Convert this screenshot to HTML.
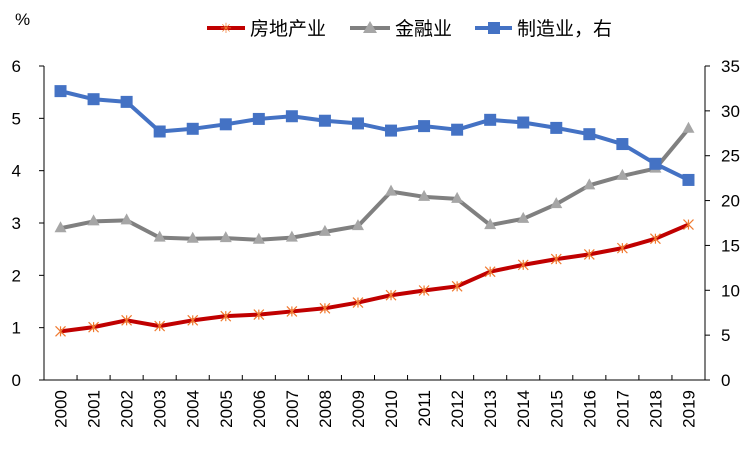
<!DOCTYPE html>
<html><head><meta charset="utf-8"><style>
body{margin:0;background:#fff}
text{font-family:"Liberation Sans","Noto Sans CJK SC",sans-serif;fill:#000}
</style></head><body>
<svg id="c" width="751" height="450">
<text x="15" y="25" font-size="17">%</text>
<g>
<g><line x1="207" y1="28" x2="245" y2="28" stroke="#c00000" stroke-width="4"/><text x="226" y="33" font-size="14" fill="#f07a30" text-anchor="middle" style="fill:#f07a30">✳</text><text x="250" y="35" font-size="19">房地产业</text></g>
<g><line x1="350" y1="28" x2="390" y2="28" stroke="#808080" stroke-width="4"/><polygon points="370,21 377,33 363,33" fill="#a6a6a6"/><text x="395" y="35" font-size="19">金融业</text></g>
<g><line x1="475" y1="28" x2="512" y2="28" stroke="#4472c4" stroke-width="4"/><rect x="488" y="22" width="12" height="12" fill="#4472c4"/><text x="517" y="35" font-size="19">制造业，右</text></g>
</g>
<g id="axes"></g><g id="series"></g>
</svg>
<script>
const years=["2000","2001","2002","2003","2004","2005","2006","2007","2008","2009","2010","2011","2012","2013","2014","2015","2016","2017","2018","2019"];
const realEstate=[0.93,1.01,1.14,1.03,1.14,1.22,1.25,1.31,1.37,1.48,1.62,1.71,1.79,2.07,2.2,2.31,2.4,2.52,2.7,2.97];
const finance=[2.9,3.03,3.05,2.72,2.7,2.71,2.68,2.72,2.83,2.94,3.6,3.5,3.46,2.96,3.08,3.36,3.72,3.9,4.04,4.8];
const manufacturing=[32.2,31.3,31.0,27.7,28.0,28.5,29.1,29.4,28.9,28.6,27.8,28.3,27.9,29.0,28.7,28.1,27.4,26.3,24.1,22.3];
const leftTicks=[0,1,2,3,4,5,6];
const rightTicks=[0,5,10,15,20,25,30,35];
const NS="http://www.w3.org/2000/svg";
const L=44,R=705,T=66,B=380;
const bw=(R-L)/years.length;
const x=i=>L+bw*(i+0.5);
const yl=v=>B-(v/6)*(B-T);
const yr=v=>B-(v/35)*(B-T);
function mk(t,a,p){const e=document.createElementNS(NS,t);for(const k in a)e.setAttribute(k,a[k]);p.appendChild(e);return e;}
const ax=document.getElementById('axes'),se=document.getElementById('series');
const la=mk('line',{x1:L,y1:T,x2:L,y2:B,stroke:'#000','stroke-width':1},ax);


const ra=mk('line',{x1:R,y1:T,x2:R,y2:B,stroke:'#000','stroke-width':1},ax);


const xa=mk('line',{x1:L,y1:B,x2:R,y2:B,stroke:'#000','stroke-width':1},ax);


leftTicks.forEach(v=>{mk('line',{x1:L-5,y1:yl(v),x2:L,y2:yl(v),stroke:'#000'},ax);
const t=mk('text',{x:L-23,y:yl(v)+6,'font-size':17,'text-anchor':'end'},ax);t.textContent=v;

});
rightTicks.forEach(v=>{mk('line',{x1:R,y1:yr(v),x2:R+5,y2:yr(v),stroke:'#000'},ax);
const t=mk('text',{x:R+16,y:yr(v)+6,'font-size':17},ax);t.textContent=v;

});
years.forEach((yv,i)=>{mk('line',{x1:L+bw*(i+1),y1:B,x2:L+bw*(i+1),y2:B-5,stroke:'#000'},ax);
const t=mk('text',{x:0,y:0,'font-size':17,'text-anchor':'end',transform:`translate(${x(i)+6},${B+10}) rotate(-90)`},ax);t.textContent=yv;

});
function line(vals,f,color,name){const p=mk('polyline',{points:vals.map((v,i)=>x(i)+','+f(v)).join(' '),fill:'none',stroke:color,'stroke-width':4,'stroke-linejoin':'round'},se);

}
line(finance,yl,'#808080','finance-line');
line(realEstate,yl,'#c00000','real-estate-line');
line(manufacturing,yr,'#4472c4','manufacturing-line');
finance.forEach((v,i)=>{const m=mk('polygon',{points:`${x(i)},${yl(v)-7} ${x(i)+6},${yl(v)+4} ${x(i)-6},${yl(v)+4}`,fill:'#a6a6a6'},se);

});
realEstate.forEach((v,i)=>{const g=mk('g',{stroke:'#f07a30','stroke-width':1.2},se);


const cx=x(i),cy=yl(v),s=5;mk('line',{x1:cx-s,y1:cy-s,x2:cx+s,y2:cy+s},g);mk('line',{x1:cx-s,y1:cy+s,x2:cx+s,y2:cy-s},g);mk('line',{x1:cx,y1:cy-s,x2:cx,y2:cy+s},g);});
manufacturing.forEach((v,i)=>{const m=mk('rect',{x:x(i)-6,y:yr(v)-6,width:12,height:12,fill:'#4472c4'},se);

});
</script>
</body></html>
